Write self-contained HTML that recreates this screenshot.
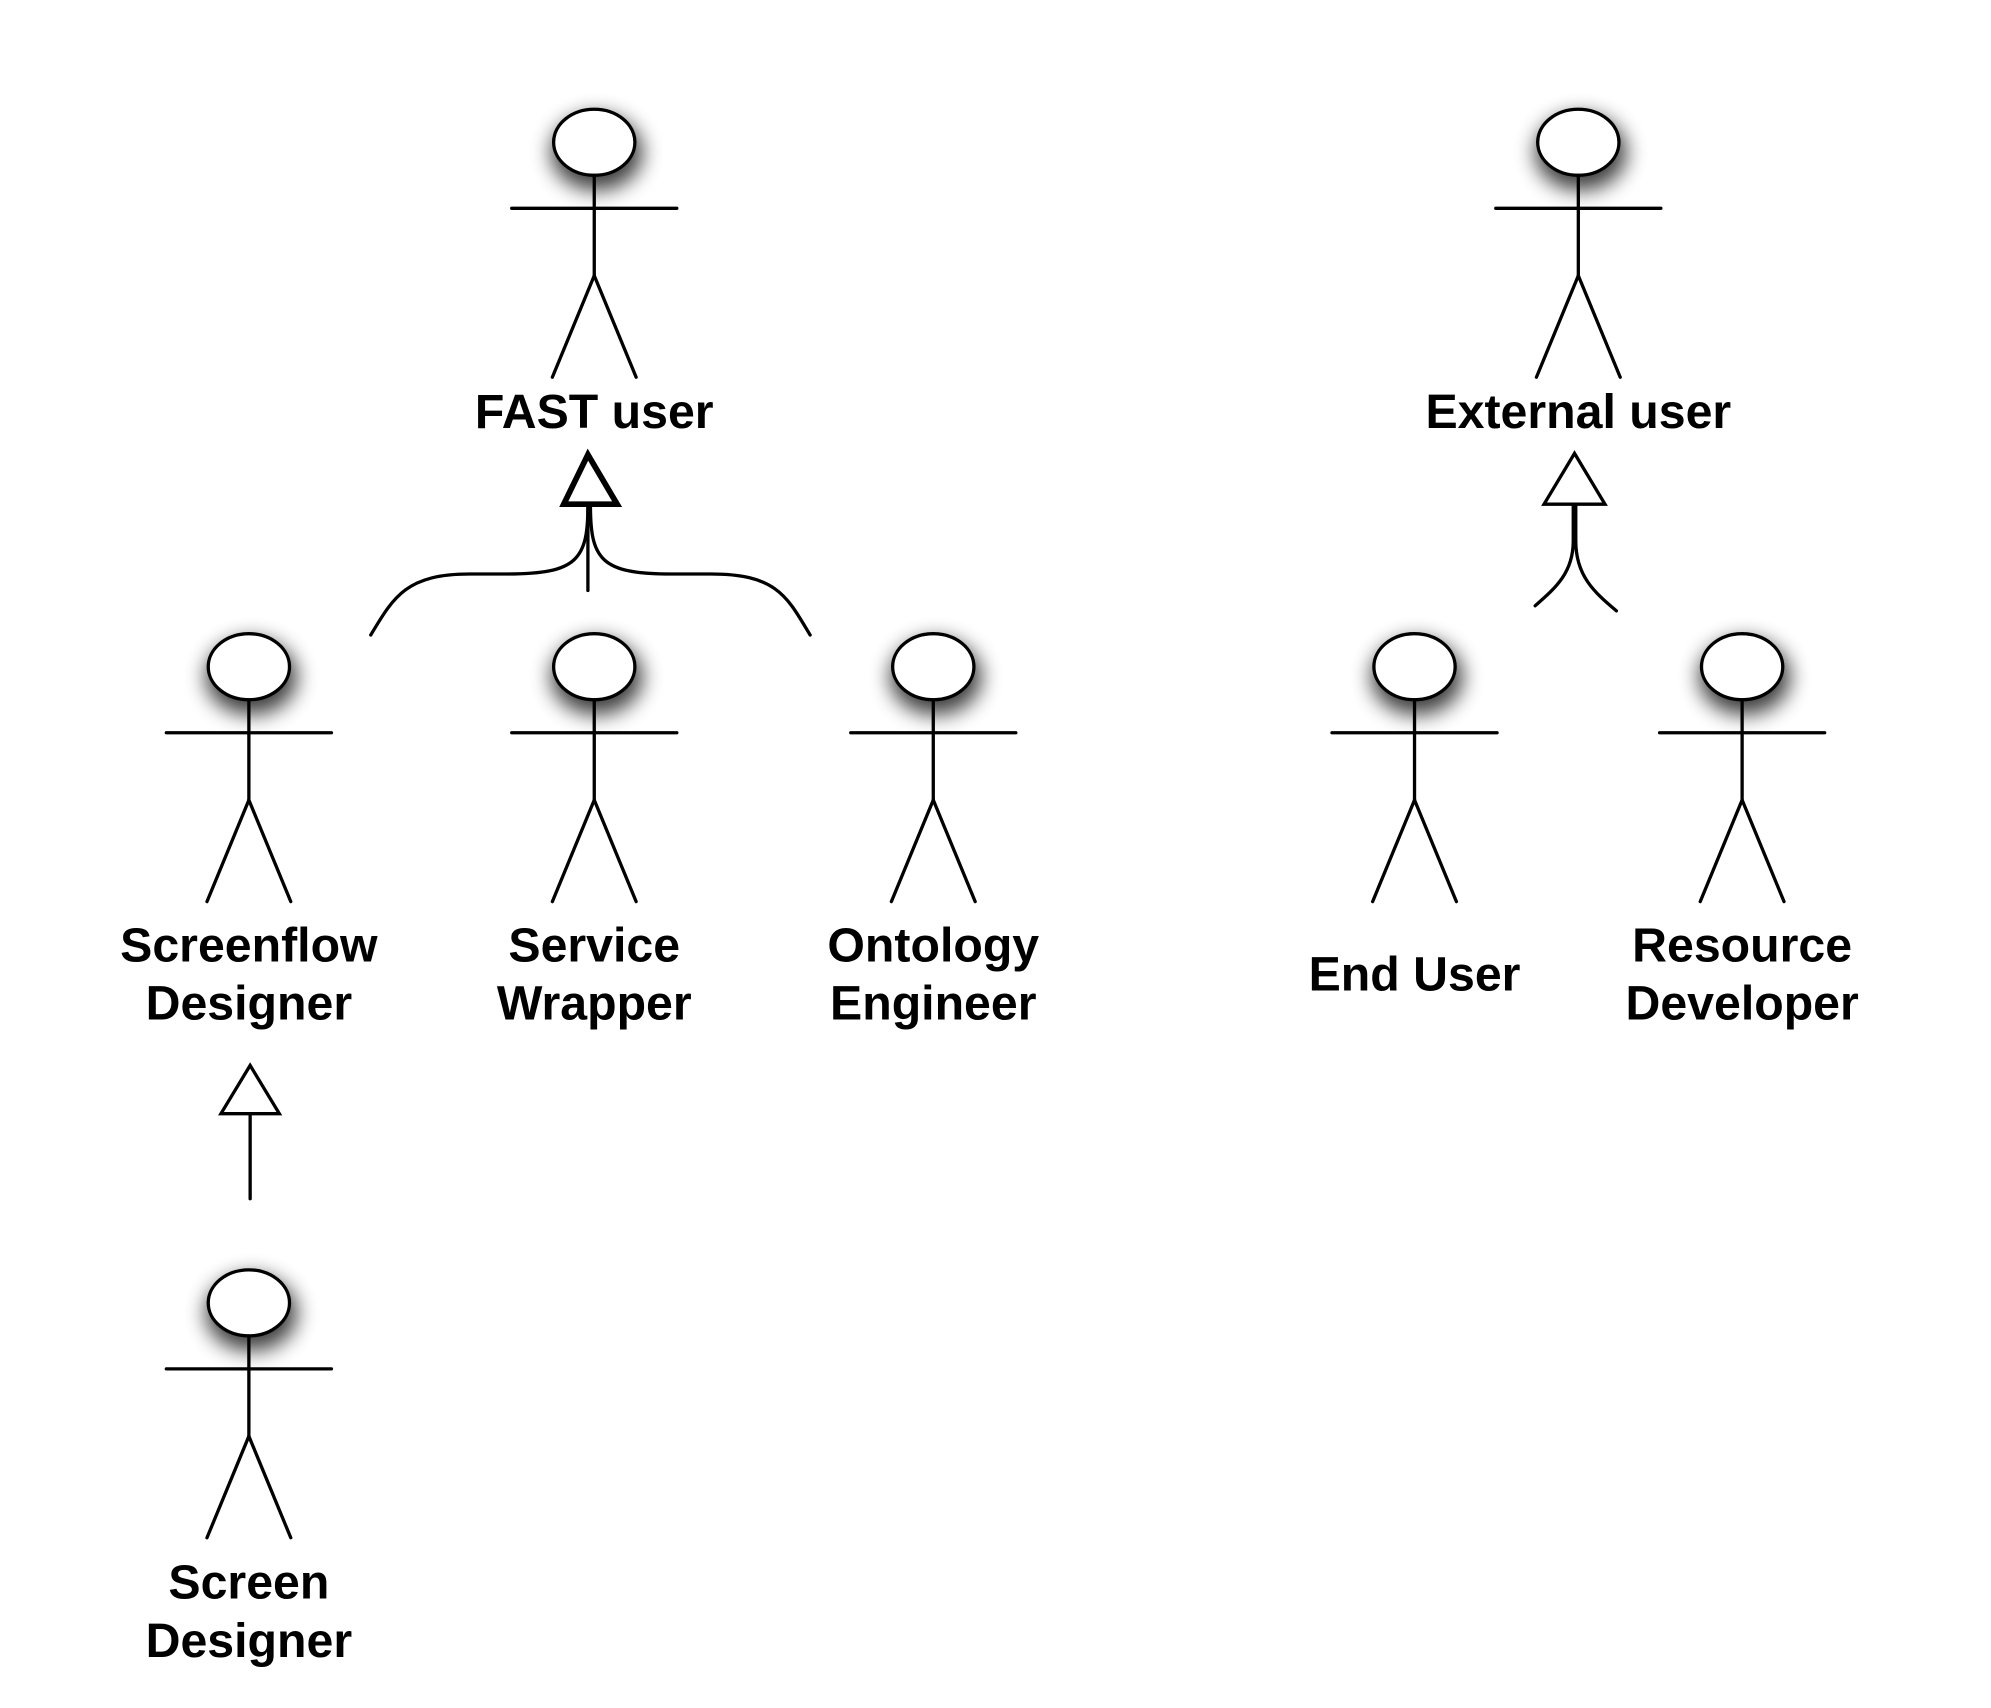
<!DOCTYPE html>
<html><head><meta charset="utf-8"><style>
html,body{margin:0;padding:0;background:#fff;}
svg{display:block;}
text{font-family:"Liberation Sans",Arial,sans-serif;font-weight:bold;font-size:38px;fill:#000;text-anchor:middle;}
</style></head><body>
<svg width="1991" height="1708" viewBox="0 0 1568 1345" xmlns="http://www.w3.org/2000/svg">
<defs>
<filter id="sh" x="-100%" y="-100%" width="300%" height="300%">
<feGaussianBlur stdDeviation="8"/>
</filter>
<g id="actor" stroke="#000" stroke-width="2.6" fill="none" stroke-linecap="round">
<ellipse cx="2" cy="8" rx="36" ry="30" fill="#000" stroke="none" filter="url(#sh)" opacity="0.75"/>
<ellipse cx="0" cy="0" rx="32" ry="26" fill="#fff"/>
<line x1="0" y1="26" x2="0" y2="105"/>
<line x1="-65" y1="52" x2="65" y2="52"/>
<line x1="0" y1="105" x2="-33" y2="185"/>
<line x1="0" y1="105" x2="33" y2="185"/>
</g>
</defs>

<use href="#actor" x="468" y="112"/>
<use href="#actor" x="1243" y="112"/>
<use href="#actor" x="196" y="525"/>
<use href="#actor" x="468" y="525"/>
<use href="#actor" x="735" y="525"/>
<use href="#actor" x="1114" y="525"/>
<use href="#actor" x="1372" y="525"/>
<use href="#actor" x="196" y="1026"/>

<text x="468" y="337">FAST user</text>
<text x="1243" y="337">External user</text>
<text x="196" y="757">Screenflow</text>
<text x="196" y="803">Designer</text>
<text x="468" y="757">Service</text>
<text x="468" y="803">Wrapper</text>
<text x="735" y="757">Ontology</text>
<text x="735" y="803">Engineer</text>
<text x="1114" y="780">End User</text>
<text x="1372" y="757">Resource</text>
<text x="1372" y="803">Developer</text>
<text x="196" y="1259">Screen</text>
<text x="196" y="1305">Designer</text>

<g stroke="#000" fill="none" stroke-width="2.6" stroke-linecap="round">
<polygon points="463,358 444,397 486,397" fill="#fff" stroke-width="4.5"/>
<line x1="463" y1="397" x2="463" y2="465"/>
<path d="M463,398 C463,440 455,452 400,452 L370,452 C320,452 310,470 292,500"/>
<path d="M465,398 C465,440 473,452 528,452 L560,452 C612,452 620,470 638,500"/>
<polygon points="197,839 174,877 220,877" fill="#fff"/>
<line x1="197" y1="877" x2="197" y2="944"/>
<polygon points="1240,357 1216,397 1264,397" fill="#fff"/>
<path d="M1239,397 L1239,426 C1239,451 1225,463 1209,477"/>
<path d="M1241,397 L1241,426 C1241,453 1255,466 1273,481"/>
</g>
</svg>
</body></html>
